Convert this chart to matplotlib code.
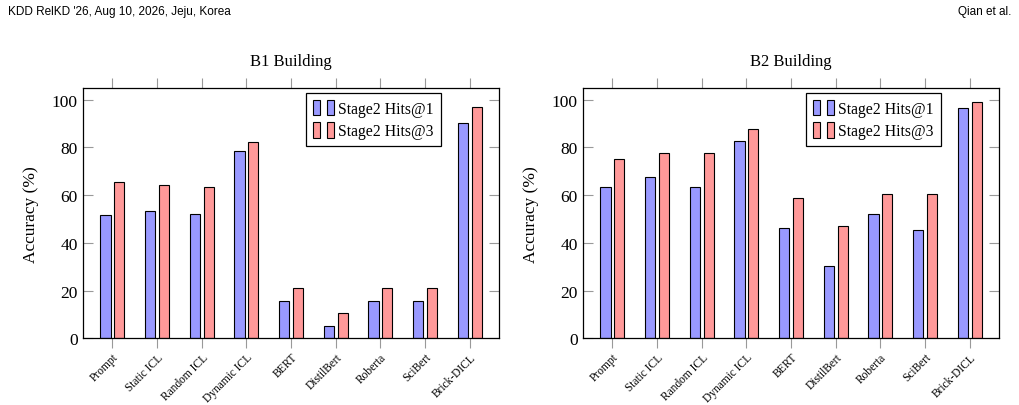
import numpy as np
import matplotlib.pyplot as plt
from matplotlib.patches import Patch
from matplotlib.legend_handler import HandlerTuple

# data
methods = ['Prompt', 'Static ICL', 'Random ICL', 'Dynamic ICL', 'BERT',
           'DistilBert', 'Roberta', 'SciBert', 'Brick-DICL']
b1_hits1 = [51.5, 53.2, 52.1, 78.3, 15.8, 5.3, 15.8, 15.8, 90.3]
b1_hits3 = [65.4, 64.2, 63.3, 82.2, 21.1, 10.5, 21.1, 21.1, 96.7]
b2_hits1 = [63.2, 67.4, 63.2, 82.6, 46.2, 30.3, 52.1, 45.4, 96.4]
b2_hits3 = [74.9, 77.8, 77.8, 87.8, 58.9, 47.1, 60.5, 60.5, 98.9]
titles = ['B1 Building', 'B2 Building']

blue = '#9999ff'
red = '#ff9999'
serif = 'Liberation Serif'

fig = plt.figure(figsize=(10.2, 4.06), dpi=100)
fig.text(0.008, 0.97, "KDD RelKD '26, Aug 10, 2026, Jeju, Korea", fontsize=8.5,
         family='Liberation Sans', va='center', ha='left')
fig.text(0.992, 0.97, "Qian et al.", fontsize=8.5,
         family='Liberation Sans', va='center', ha='right')

x = np.arange(len(methods))
w = 0.23
off = 0.155
lefts = [0.0817, 0.5719]

for left, title, h1, h3 in zip(lefts, titles, [b1_hits1, b2_hits1], [b1_hits3, b2_hits3]):
    ax = fig.add_axes([left, 0.1643, 0.4073, 0.6158])
    ax.bar(x - off, h1, w, color=blue, edgecolor='black', linewidth=0.8)
    ax.bar(x + off, h3, w, color=red, edgecolor='black', linewidth=0.8)
    ax.set_xlim(-0.65, 8.65)
    ax.set_ylim(0, 104.7)
    ax.set_yticks([0, 20, 40, 60, 80, 100])
    ax.set_xticks(x)
    ax.set_xticklabels(methods, rotation=45, ha='right', rotation_mode='anchor',
                       fontsize=8.3, family=serif)
    for lab in ax.get_yticklabels():
        lab.set_family(serif)
        lab.set_fontsize(12.5)
    ax.tick_params(axis='x', direction='out', length=7, width=0.8, color='#999999',
                   top=True, pad=2)
    ax.tick_params(axis='y', direction='in', length=7, width=0.8, color='#999999',
                   right=True, pad=4)
    for s in ax.spines.values():
        s.set_linewidth(0.9)
    ax.set_ylabel('Accuracy (%)', family=serif, fontsize=12.5, labelpad=9)
    ax.set_title(title, family=serif, fontsize=12, pad=17)

    handles = [(Patch(facecolor=blue, edgecolor='black', lw=0.8),
                Patch(facecolor=blue, edgecolor='black', lw=0.8)),
               (Patch(facecolor=red, edgecolor='black', lw=0.8),
                Patch(facecolor=red, edgecolor='black', lw=0.8))]
    leg = ax.legend(handles, ['Stage2 Hits@1', 'Stage2 Hits@3'],
                    handler_map={tuple: HandlerTuple(ndivide=None, pad=0.5)},
                    loc='upper right', bbox_to_anchor=(0.861, 0.981),
                    prop={'family': serif, 'size': 11.3}, fancybox=False,
                    edgecolor='black', framealpha=1, handlelength=1.3,
                    handleheight=1.1, handletextpad=0.3, borderpad=0.45,
                    labelspacing=0.35, borderaxespad=0)
    leg.get_frame().set_linewidth(0.9)

plt.savefig('out.png', dpi=100)
